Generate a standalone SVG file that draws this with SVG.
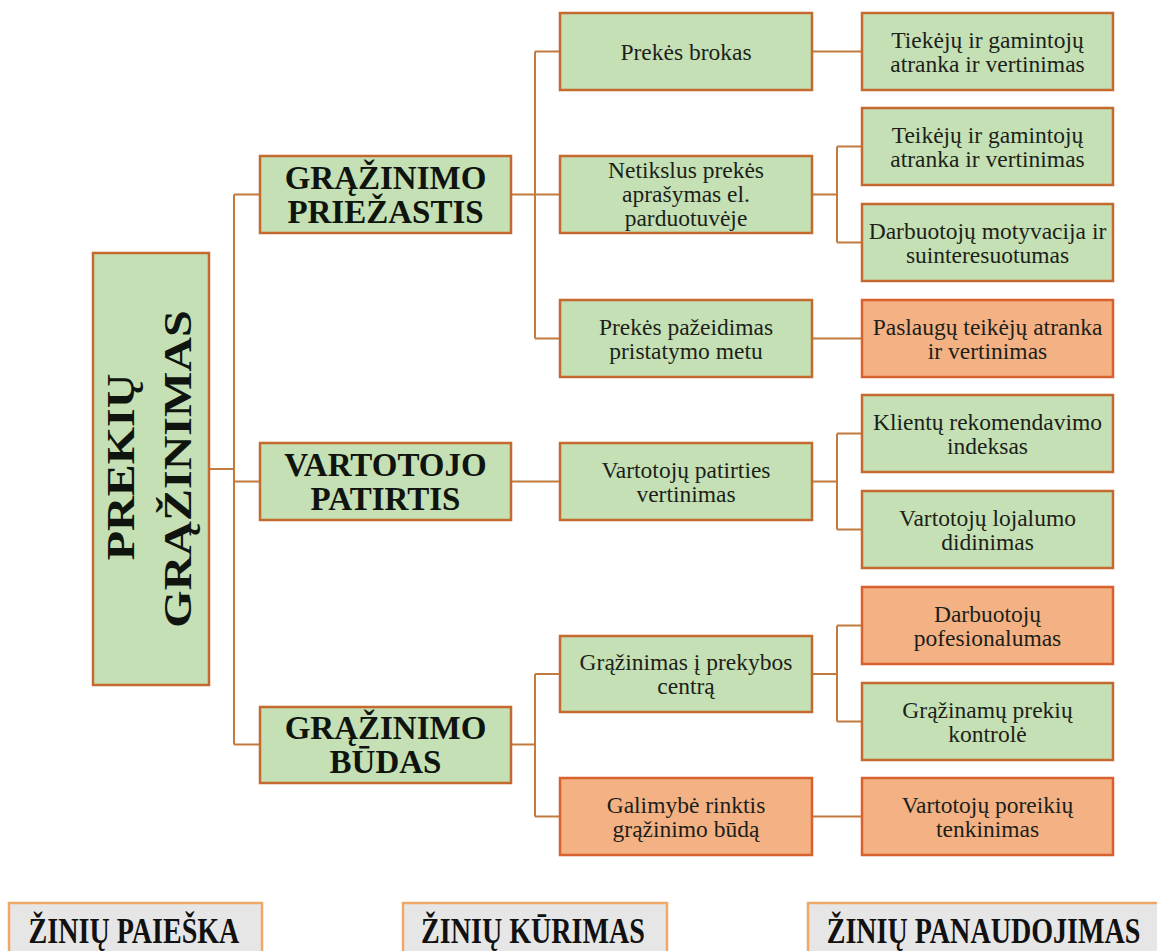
<svg xmlns="http://www.w3.org/2000/svg" width="1157" height="951" viewBox="0 0 1157 951">
<style>
.g{fill:#C5E0B4;stroke:#C46A2E;stroke-width:2.5}
.o{fill:#F4B183;stroke:#D8622E;stroke-width:2.5}
.k{fill:#E7E6E6;stroke:#F0A868;stroke-width:2.5}
text{font-family:'Liberation Serif','Times New Roman',serif;text-anchor:middle}
.t{font-size:23.5px;font-weight:normal;fill:#1c1f1a}
.b{font-size:33px;font-weight:bold;fill:#0f140e}
.m{font-size:48px;font-weight:bold;fill:#0f140e}
.z{font-size:36px;font-weight:bold;fill:#111}
.c{fill:none;stroke:#C27A3E;stroke-width:2}
</style>
<rect width="1157" height="951" fill="#ffffff"/>
<g id="connectors" class="c">
<path d="M209,469 H234 M234,194.5 V744.5 M234,194.5 H260 M234,481.5 H260 M234,744.5 H260"/>
<path d="M511,194.5 H535 M535,51.5 V338.5 M535,51.5 H560 M535,194.5 H560 M535,338.5 H560"/>
<path d="M511,481.5 H560"/>
<path d="M511,744.5 H535 M535,674 V816.5 M535,674 H560 M535,816.5 H560"/>
<path d="M812,51.5 H862"/>
<path d="M812,194.5 H837 M837,146.5 V242.5 M837,146.5 H862 M837,242.5 H862"/>
<path d="M812,338.5 H862"/>
<path d="M812,481.5 H837 M837,433.5 V529.5 M837,433.5 H862 M837,529.5 H862"/>
<path d="M812,674 H837 M837,625.5 V721.5 M837,625.5 H862 M837,721.5 H862"/>
<path d="M812,816.5 H862"/>
</g>
<g id="root">
<rect class="g" x="93" y="253" width="116" height="432"/>
<text class="m" transform="translate(134,467) scale(0.85,1) rotate(-90)">PREKIŲ</text>
<text class="m" transform="translate(191,469) scale(0.85,1) rotate(-90)">GRĄŽINIMAS</text>
</g>
<g id="l1-priezastis">
<rect class="g" x="260" y="156" width="251" height="77"/>
<text class="b" x="385.5" y="188.5">GRĄŽINIMO</text>
<text class="b" x="385.5" y="222.5">PRIEŽASTIS</text>
</g>
<g id="l1-patirtis">
<rect class="g" x="260" y="443" width="251" height="77"/>
<text class="b" x="385.5" y="475.5">VARTOTOJO</text>
<text class="b" x="385.5" y="509.5">PATIRTIS</text>
</g>
<g id="l1-budas">
<rect class="g" x="260" y="707" width="251" height="76"/>
<text class="b" x="385.5" y="738.5">GRĄŽINIMO</text>
<text class="b" x="385.5" y="772.5">BŪDAS</text>
</g>
<g id="l2-brokas">
<rect class="g" x="560" y="13" width="252" height="77"/>
<text class="t" x="686" y="59.5">Prekės brokas</text>
</g>
<g id="l2-netikslus">
<rect class="g" x="560" y="156" width="252" height="77"/>
<text class="t" x="686" y="178">Netikslus prekės</text>
<text class="t" x="686" y="202">aprašymas el.</text>
<text class="t" x="686" y="226">parduotuvėje</text>
</g>
<g id="l2-pazeidimas">
<rect class="g" x="560" y="300" width="252" height="77"/>
<text class="t" x="686" y="334.5">Prekės pažeidimas</text>
<text class="t" x="686" y="358.5">pristatymo metu</text>
</g>
<g id="l2-patirties">
<rect class="g" x="560" y="443" width="252" height="77"/>
<text class="t" x="686" y="477.5">Vartotojų patirties</text>
<text class="t" x="686" y="501.5">vertinimas</text>
</g>
<g id="l2-grazinimas">
<rect class="g" x="560" y="636" width="252" height="76"/>
<text class="t" x="686" y="670">Grąžinimas į prekybos</text>
<text class="t" x="686" y="694">centrą</text>
</g>
<g id="l2-galimybe">
<rect class="o" x="560" y="778" width="252" height="77"/>
<text class="t" x="686" y="812.5">Galimybė rinktis</text>
<text class="t" x="686" y="836.5">grąžinimo būdą</text>
</g>
<g id="l3-tiekeju">
<rect class="g" x="862" y="13" width="251" height="77"/>
<text class="t" x="987.5" y="47.5">Tiekėjų ir gamintojų</text>
<text class="t" x="987.5" y="71.5">atranka ir vertinimas</text>
</g>
<g id="l3-teikeju">
<rect class="g" x="862" y="108" width="251" height="77"/>
<text class="t" x="987.5" y="142.5">Teikėjų ir gamintojų</text>
<text class="t" x="987.5" y="166.5">atranka ir vertinimas</text>
</g>
<g id="l3-motyvacija">
<rect class="g" x="862" y="204" width="251" height="77"/>
<text class="t" x="987.5" y="238.5">Darbuotojų motyvacija ir</text>
<text class="t" x="987.5" y="262.5">suinteresuotumas</text>
</g>
<g id="l3-paslaugu">
<rect class="o" x="862" y="300" width="251" height="77"/>
<text class="t" x="987.5" y="334.5">Paslaugų teikėjų atranka</text>
<text class="t" x="987.5" y="358.5">ir vertinimas</text>
</g>
<g id="l3-klientu">
<rect class="g" x="862" y="395" width="251" height="77"/>
<text class="t" x="987.5" y="429.5">Klientų rekomendavimo</text>
<text class="t" x="987.5" y="453.5">indeksas</text>
</g>
<g id="l3-lojalumo">
<rect class="g" x="862" y="491" width="251" height="77"/>
<text class="t" x="987.5" y="525.5">Vartotojų lojalumo</text>
<text class="t" x="987.5" y="549.5">didinimas</text>
</g>
<g id="l3-pofesionalumas">
<rect class="o" x="862" y="587" width="251" height="77"/>
<text class="t" x="987.5" y="621.5">Darbuotojų</text>
<text class="t" x="987.5" y="645.5">pofesionalumas</text>
</g>
<g id="l3-kontrole">
<rect class="g" x="862" y="683" width="251" height="77"/>
<text class="t" x="987.5" y="717.5">Grąžinamų prekių</text>
<text class="t" x="987.5" y="741.5">kontrolė</text>
</g>
<g id="l3-poreikiu">
<rect class="o" x="862" y="778" width="251" height="77"/>
<text class="t" x="987.5" y="812.5">Vartotojų poreikių</text>
<text class="t" x="987.5" y="836.5">tenkinimas</text>
</g>
<g id="phase-paieska">
<rect class="k" x="9" y="903" width="253" height="60"/>
<text class="z" transform="translate(134,943) scale(0.78,1)">ŽINIŲ PAIEŠKA</text>
</g>
<g id="phase-kurimas">
<rect class="k" x="403" y="903" width="264" height="60"/>
<text class="z" transform="translate(533,943) scale(0.78,1)">ŽINIŲ KŪRIMAS</text>
</g>
<g id="phase-panaudojimas">
<rect class="k" x="808" y="903" width="360" height="60"/>
<text class="z" transform="translate(983.5,943) scale(0.78,1)">ŽINIŲ PANAUDOJIMAS</text>
</g>
</svg>
